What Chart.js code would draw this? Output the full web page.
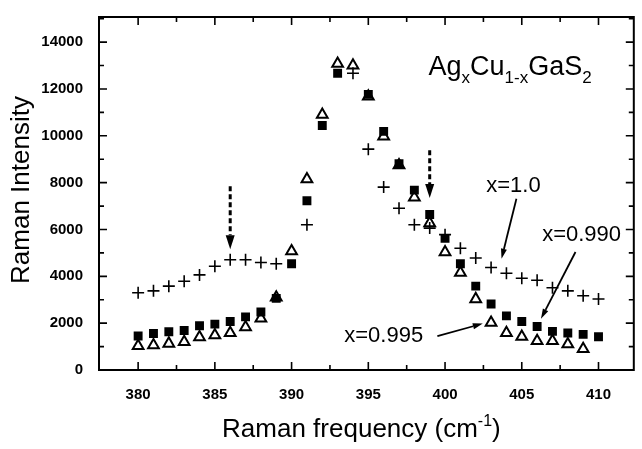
<!DOCTYPE html>
<html>
<head>
<meta charset="utf-8">
<script src="https://cdn.jsdelivr.net/npm/chart.js@4.4.0/dist/chart.umd.min.js"></script>
<style>
  html, body { margin: 0; padding: 0; background: #fff; }
</style>
</head>
<body>
<canvas id="c" width="642" height="449"></canvas>
<script>
"use strict";

// Raman frequency (cm-1)
const freq = [380, 381, 382, 383, 384, 385, 386, 387, 388, 389,
              390, 391, 392, 393, 394, 395, 396, 397, 398, 399,
              400, 401, 402, 403, 404, 405, 406, 407, 408, 409, 410];

// x = 1.0 (plus)
const plusVals = [3300, 3380, 3580, 3790, 4060, 4430, 4710, 4710, 4590, 4540,
                  null, 6200, null, null, 12670, 9430, 7810, 6910, 6200, 6060,
                  5780, 5200, 4780, 4380, 4130, 3920, 3830, 3510, 3380, 3170, 3030];

// x = 0.990 (filled square)
const squareVals = [1450, 1560, 1630, 1690, 1890, 1960, 2070, 2270, 2480, 3060,
                    4540, 7230, 10440, 12670, null, 11770, 10190, 8810, 7680, 6640,
                    5620, 4540, 3580, 2820, 2310, 2070, 1860, 1650, 1580, 1520, 1420];

// x = 0.995 (open triangle)
const triVals = [1030, 1060, 1130, 1200, 1400, 1490, 1580, 1830, 2200, 3100,
                 5070, 8150, 10900, 13080, 13010, 11680, 9980, 8750, 7370, 6270,
                 5030, 4160, 3030, 2020, 1580, 1420, 1240, 1240, 1100, 900, null];

const xTickLabels = [380, 385, 390, 395, 400, 405, 410];
const yTickLabels = [0, 2000, 4000, 6000, 8000, 10000, 12000, 14000];

const FONT = "'Liberation Sans', Arial, sans-serif";

function toPoints(_vals) {
  return freq.map(function(_f, _i) { return { x: _f, y: _vals[_i] }; });
}

// draws a line with an arrow head at (x2, y2), in pixels
function drawArrow(ctx, x1, y1, x2, y2, _opt) {
  let _ang = Math.atan2(y2 - y1, x2 - x1);
  let _hl = _opt.headLen, _hw = _opt.headWidth;
  let _bx = x2 - Math.cos(_ang) * _hl, _by = y2 - Math.sin(_ang) * _hl;
  ctx.save();
  ctx.strokeStyle = '#000';
  ctx.fillStyle = '#000';
  ctx.lineWidth = _opt.lineWidth;
  if (_opt.dash) { ctx.setLineDash(_opt.dash); }
  ctx.beginPath();
  ctx.moveTo(x1, y1);
  ctx.lineTo(_bx, _by);
  ctx.stroke();
  ctx.setLineDash([]);
  ctx.beginPath();
  ctx.moveTo(x2, y2);
  ctx.lineTo(_bx + Math.sin(_ang) * _hw / 2, _by - Math.cos(_ang) * _hw / 2);
  ctx.lineTo(_bx - Math.sin(_ang) * _hw / 2, _by + Math.cos(_ang) * _hw / 2);
  ctx.closePath();
  ctx.fill();
  ctx.restore();
}

// draws a run of [text, size, dy] pieces starting at x
function drawRuns(ctx, x, y, _runs) {
  _runs.forEach(function(_r) {
    ctx.font = _r[1] + 'px ' + FONT;
    ctx.fillText(_r[0], x, y + _r[2]);
    x += ctx.measureText(_r[0]).width;
  });
  return x;
}

function runsWidth(ctx, _runs) {
  let _w = 0;
  _runs.forEach(function(_r) {
    ctx.font = _r[1] + 'px ' + FONT;
    _w += ctx.measureText(_r[0]).width;
  });
  return _w;
}

const framePlugin = {
  id: 'frame',
  afterDraw(chart) {
    const ctx = chart.ctx;
    const a = chart.chartArea;
    const sx = chart.scales.x, sy = chart.scales.y;
    ctx.save();

    // frame
    ctx.strokeStyle = '#000';
    ctx.lineWidth = 2;
    ctx.strokeRect(a.left, a.top, a.right - a.left, a.bottom - a.top);

    // inward ticks
    ctx.lineWidth = 1.6;
    ctx.beginPath();
    xTickLabels.forEach(function(_v) {
      [[_v, 8], [_v + 2.5, 5]].forEach(function(_t) {
        if (_t[0] > sx.max) { return; }
        let _px = sx.getPixelForValue(_t[0]);
        ctx.moveTo(_px, a.bottom); ctx.lineTo(_px, a.bottom - _t[1]);
        ctx.moveTo(_px, a.top); ctx.lineTo(_px, a.top + _t[1]);
      });
    });
    yTickLabels.forEach(function(_v) {
      [[_v, 8], [_v + 1000, 5]].forEach(function(_t) {
        if (_t[0] > sy.max) { return; }
        let _py = sy.getPixelForValue(_t[0]);
        ctx.moveTo(a.left, _py); ctx.lineTo(a.left + _t[1], _py);
        ctx.moveTo(a.right, _py); ctx.lineTo(a.right - _t[1], _py);
      });
    });
    ctx.stroke();

    // dashed arrows
    [[386, 7850, 5160], [399, 9380, 7350]].forEach(function(_d) {
      let _px = sx.getPixelForValue(_d[0]);
      drawArrow(ctx, _px, sy.getPixelForValue(_d[1]), _px, sy.getPixelForValue(_d[2]),
        { lineWidth: 3, headLen: 14, headWidth: 9, dash: [5, 3] });
    });

    // solid arrows
    [[404.65, 7310, 403.68, 4750], [408.5, 5040, 406.25, 2190], [399.5, 1445, 402.46, 1982]].forEach(function(_d) {
      drawArrow(ctx, sx.getPixelForValue(_d[0]), sy.getPixelForValue(_d[1]),
        sx.getPixelForValue(_d[2]), sy.getPixelForValue(_d[3]),
        { lineWidth: 1.8, headLen: 10, headWidth: 6 });
    });

    ctx.fillStyle = '#000';
    ctx.textBaseline = 'middle';
    ctx.textAlign = 'center';
    ctx.font = '22px ' + FONT;
    ctx.fillText('x=1.0', sx.getPixelForValue(404.46), sy.getPixelForValue(7850));
    ctx.fillText('x=0.990', sx.getPixelForValue(408.9), sy.getPixelForValue(5780));
    ctx.fillText('x=0.995', sx.getPixelForValue(396.0), sy.getPixelForValue(1445));

    // compound label
    ctx.textAlign = 'left';
    ctx.textBaseline = 'alphabetic';
    drawRuns(ctx, sx.getPixelForValue(398.92), sy.getPixelForValue(12580), [
      ['Ag', 27, 0], ['x', 17, 8], ['Cu', 27, 0], ['1-x', 17, 8],
      ['GaS', 27, 0], ['2', 17, 8]
    ]);

    // x axis title
    let _xr = [['Raman frequency (cm', 26, 0], ['-1', 16, -11], [')', 26, 0]];
    let _xc = (a.left + a.right) / 2 - 5;
    drawRuns(ctx, _xc - runsWidth(ctx, _xr) / 2, 437, _xr);

    // y axis title
    ctx.translate(22, 190);
    ctx.rotate(-Math.PI / 2);
    ctx.textAlign = 'center';
    ctx.textBaseline = 'middle';
    ctx.font = '26px ' + FONT;
    ctx.fillText('Raman Intensity', 0, 0);

    ctx.restore();
  }
};

new Chart(document.getElementById('c'), {
  type: 'scatter',
  data: {
    datasets: [
      {
        label: 'x=0.990', data: toPoints(squareVals), order: 1,
        pointStyle: 'rect', pointRadius: 6.3, pointBackgroundColor: '#000',
        pointBorderColor: '#000', pointBorderWidth: 0
      },
      {
        label: 'x=1.0', data: toPoints(plusVals), order: 2,
        pointStyle: 'cross', pointRadius: 6, pointBorderColor: '#000', pointBorderWidth: 1.6
      },
      {
        label: 'x=0.995', data: toPoints(triVals), order: 3,
        pointStyle: 'triangle', pointRadius: 6.2, pointBackgroundColor: '#fff',
        pointBorderColor: '#000', pointBorderWidth: 2
      }
    ]
  },
  options: {
    responsive: false,
    animation: false,
    events: [],
    layout: { padding: { left: 0, right: 1, top: 5, bottom: 0 } },
    plugins: { legend: { display: false }, tooltip: { enabled: false } },
    scales: {
      x: {
        type: 'linear', min: 377.45, max: 412.3,
        grid: { display: false }, border: { display: false },
        afterFit: function(_s) { _s.height = 79; },
        afterBuildTicks: function(_s) { _s.ticks = xTickLabels.map(function(_v) { return { value: _v }; }); },
        ticks: {
          padding: 8, color: '#000', font: { family: FONT, size: 15, weight: 'bold' },
          callback: function(_v) { return String(_v); }
        }
      },
      y: {
        type: 'linear', min: 0, max: 15074,
        grid: { display: false }, border: { display: false },
        afterFit: function(_s) { _s.width = 99; },
        afterBuildTicks: function(_s) { _s.ticks = yTickLabels.map(function(_v) { return { value: _v }; }); },
        ticks: {
          padding: 8, color: '#000', font: { family: FONT, size: 15, weight: 'bold' },
          callback: function(_v) { return String(_v); }
        }
      }
    }
  },
  plugins: [framePlugin]
});
</script>
</body>
</html>
